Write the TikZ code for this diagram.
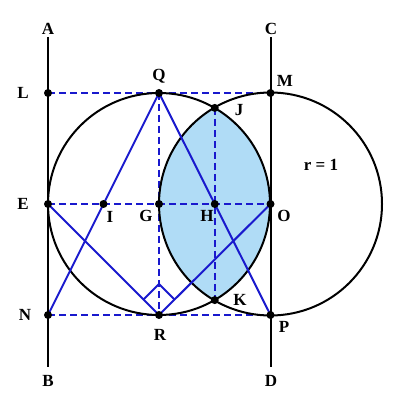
\documentclass[tikz,border=0pt]{standalone}
\usepackage{fontspec}
\setmainfont{Liberation Serif}
\usetikzlibrary{calc}
\begin{document}
\begin{tikzpicture}[x=1pt,y=-1pt,
  lbl/.style={font=\fontsize{17}{20}\selectfont\bfseries, inner sep=0pt},
  blk/.style={line width=2pt, black},
  bl/.style={line width=2pt, draw=myblue},
  dsh/.style={line width=1.5pt, draw=myblue, dash pattern=on 7pt off 4pt},
  dot/.style={fill=black}]
\definecolor{myblue}{RGB}{25,25,205}
\definecolor{lens}{RGB}{176,220,246}
\useasboundingbox (0,0) rectangle (400,411);
% points
\coordinate (G) at (159,204);
\coordinate (O) at (270.5,204);
\coordinate (E) at (48,204);
\coordinate (Q) at (159,93);
\coordinate (R) at (159,315);
\coordinate (L) at (48,93);
\coordinate (M) at (270.5,93);
\coordinate (N) at (48,315);
\coordinate (P) at (270.5,315);
\coordinate (J) at (214.75,107.9);
\coordinate (K) at (214.75,300.1);
\coordinate (H) at (214.75,204);
\coordinate (I) at (103.5,204);
\coordinate (A) at (48,37);
\coordinate (B) at (48,367);
\coordinate (C) at (270.5,37);
\coordinate (D) at (270.5,367);
% lens
\begin{scope}
  \clip (G) circle (111);
  \fill[lens] (O) circle (111.5);
\end{scope}
% dashed
\draw[dsh] (L) -- (M);
\draw[dsh] (N) -- (P);
\draw[dsh] (E) -- (O);
\draw[dsh] (Q) -- (R);
\draw[dsh] (J) -- (K);
% circles and lines
\draw[blk] (G) circle (111);
\draw[blk] (O) circle (111.5);
\draw[blk] (A) -- (B);
\draw[blk] (C) -- (D);
% blue lines
\draw[bl] (N) -- (Q) -- (P);
\draw[bl] (E) -- (R) -- (O);
\draw[bl] ($(R)+(-15.5,-15.5)$) -- ($(R)+(0,-31)$) -- ($(R)+(15.5,-15.5)$);
% dots
\foreach \p in {L,Q,M,J,E,I,G,H,O,K,N,R,P}
  \fill (\p) circle (4);
% labels
\node[lbl] (tA) at (48,29) {A};
\node[lbl] (tC) at (271,29) {C};
\node[lbl] (tL) at (23,93) {L};
\node[lbl] (tQ) at (159,76) {Q};
\node[lbl] (tM) at (285,81) {M};
\node[lbl] (tJ) at (239,110) {J};
\node[lbl] (tE) at (23,204) {E};
\node[lbl] (tI) at (110,217) {I};
\node[lbl] (tG) at (146,216) {G};
\node[lbl] (tH) at (207,216) {H};
\node[lbl] (tO) at (284,216) {O};
\node[lbl] (tr) at (321,165) {r = 1};
\node[lbl] (tK) at (240,300) {K};
\node[lbl] (tN) at (25,315) {N};
\node[lbl] (tR) at (160,335) {R};
\node[lbl] (tP) at (284,327) {P};
\node[lbl] (tB) at (48,381) {B};
\node[lbl] (tD) at (271,381) {D};
\end{tikzpicture}
\end{document}
